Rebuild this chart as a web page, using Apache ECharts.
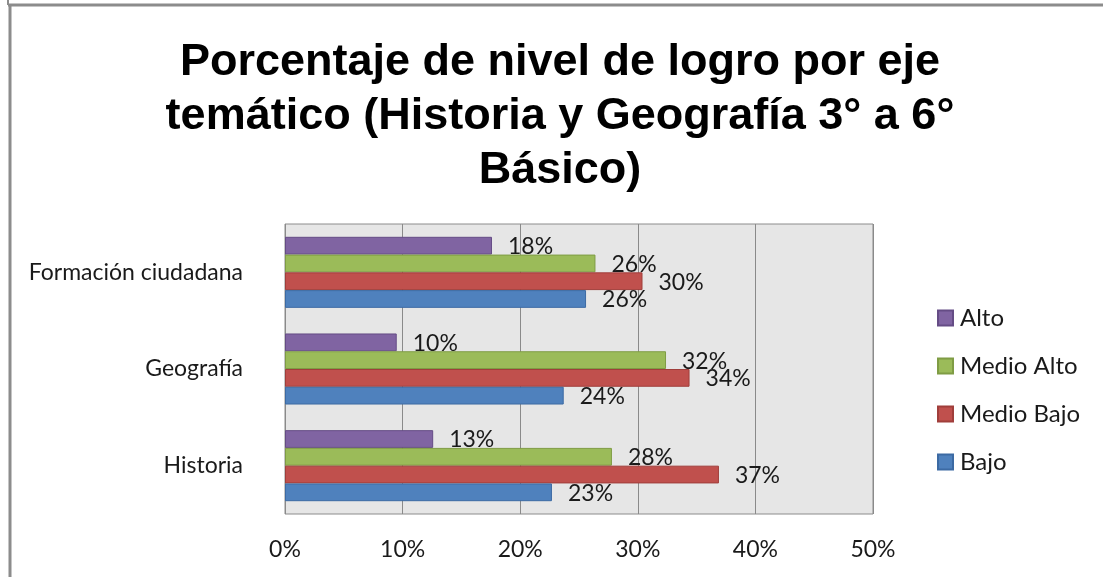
<!DOCTYPE html>
<html>
<head>
<meta charset="utf-8">
<title>Porcentaje de nivel de logro por eje temático</title>
<script src="https://cdn.jsdelivr.net/npm/echarts@6/dist/echarts.min.js"></script>
<style>
  html, body { margin: 0; padding: 0; background: #fff; }
  #chart { width: 1103px; height: 577px; }
</style>
</head>
<body>
<div id="chart"></div>
<script>
  // categorias (de abajo hacia arriba, como en el eje)
  const categories = ['Historia', 'Geografía', 'Formación ciudadana']
  const xTicks = [0, 10, 20, 30, 40, 50]

  // porcentajes
  const bajo = [22.7, 23.7, 25.6]
  const medioBajo = [36.9, 34.4, 30.4]
  const medioAlto = [27.8, 32.4, 26.4]
  const alto = [12.6, 9.5, 17.6]

  const legendOrder = ['Alto', 'Medio Alto', 'Medio Bajo', 'Bajo']

  const labelFont = 'Lato, "Open Sans", sans-serif'

  function barSeries(name, data, color, border) {
    return {
      name: name,
      type: 'bar',
      data: data,
      barGap: '0%',
      barCategoryGap: '26.5%',
      itemStyle: { color: color, borderColor: border, borderWidth: 1 },
      label: {
        show: true,
        position: 'right',
        distance: 16,
        offset: [0, 1],
        color: '#1a1a1a',
        fontFamily: labelFont,
        fontSize: 23,
        formatter: p => Math.round(p.value) + '%'
      }
    }
  }

  const chart = echarts.init(document.getElementById('chart'))
  chart.setOption({
    animation: false,
    backgroundColor: '#fff',
    title: {
      text: 'Porcentaje de nivel de logro por eje\ntemático (Historia y Geografía 3° a 6°\nBásico)',
      left: 555,
      top: 31,
      textAlign: 'center',
      textStyle: {
        fontFamily: '"Liberation Sans", Arial, sans-serif',
        fontWeight: 'bold',
        fontSize: 45,
        lineHeight: 54,
        color: '#000'
      }
    },
    legend: {
      data: legendOrder,
      orient: 'vertical',
      left: 932,
      top: 301,
      itemWidth: 15,
      itemHeight: 15,
      itemGap: 24,
      icon: 'rect',
      textStyle: {
        fontFamily: labelFont,
        fontSize: 24,
        color: '#1a1a1a',
        padding: [0, 0, 0, 2]
      }
    },
    grid: {
      left: 285,
      top: 224,
      right: 230,
      bottom: 63,
      show: true,
      backgroundColor: '#e6e6e6',
      borderColor: '#8c8c8c',
      borderWidth: 1
    },
    xAxis: {
      type: 'value',
      min: xTicks[0],
      max: xTicks[xTicks.length - 1],
      interval: 10,
      axisLine: { show: false },
      axisTick: { show: false },
      splitLine: { show: true, lineStyle: { color: '#8a8a8a', width: 1 } },
      axisLabel: {
        margin: 24,
        fontFamily: labelFont,
        fontSize: 23,
        color: '#1a1a1a',
        formatter: v => v + '%'
      }
    },
    yAxis: {
      type: 'category',
      data: categories,
      axisLine: { show: false },
      axisTick: { show: false },
      axisLabel: {
        margin: 42,
        fontFamily: labelFont,
        fontSize: 23,
        color: '#1a1a1a'
      }
    },
    // Alto arriba, Bajo abajo dentro de cada grupo
    series: [
      barSeries('Alto', alto, '#8064a2', '#654c85'),
      barSeries('Medio Alto', medioAlto, '#9bbb59', '#7f9c44'),
      barSeries('Medio Bajo', medioBajo, '#c0504d', '#a03e3b'),
      barSeries('Bajo', bajo, '#4f81bd', '#3c6aa3')
    ],
    graphic: [
      { type: 'line', shape: { x1: 8, y1: 5, x2: 1103, y2: 5 }, style: { stroke: '#8c8c8c', lineWidth: 3 } },
      { type: 'line', shape: { x1: 10, y1: 5, x2: 10, y2: 577 }, style: { stroke: '#8c8c8c', lineWidth: 3 } },
      { type: 'line', shape: { x1: 8, y1: 0, x2: 8, y2: 5 }, style: { stroke: '#8c8c8c', lineWidth: 2 } }
    ]
  })
</script>
</body>
</html>
